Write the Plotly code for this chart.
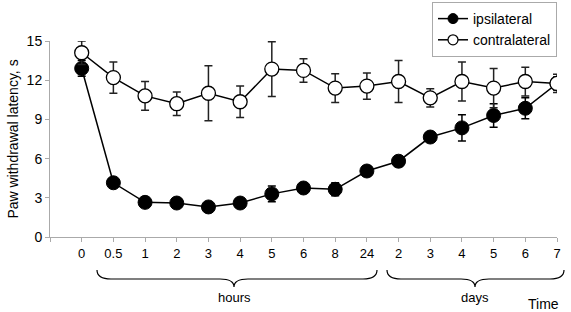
import plotly.graph_objects as go

tick_labels = ["0", "0.5", "1", "2", "3", "4", "5", "6", "8", "24",
               "2", "3", "4", "5", "6", "7"]
ipsi = [12.9, 4.15, 2.65, 2.6, 2.3, 2.6, 3.3, 3.75, 3.65, 5.05,
        5.8, 7.65, 8.35, 9.3, 9.85, 11.75]
ipsi_err = [0.6, 0.3, 0.35, 0.3, 0.3, 0.3, 0.6, 0.35, 0.5, 0.4,
            0.4, 0.3, 1.0, 0.9, 0.8, 0.5]
contra = [14.1, 12.2, 10.8, 10.2, 11.0, 10.35, 12.85, 12.75, 11.4, 11.55,
          11.9, 10.65, 11.9, 11.4, 11.9, 11.75]
contra_err = [0.9, 1.2, 1.1, 0.9, 2.1, 1.2, 2.1, 0.9, 1.1, 1.0,
              1.6, 0.7, 1.5, 1.5, 1.1, 0.7]

W, H = 571, 312
L, R, T, B = 50, 14, 41, 75
PW, PH = W - L - R, H - T - B

def px(x):
    return (x - L) / PW

def py(y):
    return (H - B - y) / PH

xs = list(range(len(tick_labels)))

fig = go.Figure()
fig.add_trace(go.Scatter(
    x=xs, y=ipsi, name="ipsilateral", mode="lines+markers", showlegend=False,
    line=dict(color="black", width=1.5),
    marker=dict(symbol="circle", size=14, color="black", line=dict(color="black", width=1)),
    error_y=dict(type="data", array=ipsi_err, color="black", thickness=1.5, width=4),
))
fig.add_trace(go.Scatter(
    x=xs, y=contra, name="contralateral", mode="lines+markers", showlegend=False,
    line=dict(color="black", width=1.5),
    marker=dict(symbol="circle", size=14, color="white", line=dict(color="black", width=1.3)),
    error_y=dict(type="data", array=contra_err, color="#222", thickness=1.5, width=4),
))
# legend entries (smaller symbols, as in the reference legend)
fig.add_trace(go.Scatter(
    x=[None], y=[None], name="ipsilateral", mode="lines+markers",
    line=dict(color="black", width=1.5),
    marker=dict(symbol="circle", size=10, color="black", line=dict(color="black", width=1)),
))
fig.add_trace(go.Scatter(
    x=[None], y=[None], name="contralateral", mode="lines+markers",
    line=dict(color="black", width=1.5),
    marker=dict(symbol="circle", size=10, color="white", line=dict(color="black", width=1.2)),
))

def brace(x0, x1, xm, ytop, ymid, ytip, d=12):
    pts = [(x0, ytop), (x0, ymid), (x0 + d, ymid), (xm - d, ymid), (xm, ymid), (xm, ytip),
           (xm, ymid), (xm + d, ymid), (x1 - d, ymid), (x1, ymid), (x1, ytop)]
    p = [(px(a), py(b)) for a, b in pts]
    s = "M {},{} Q {},{} {},{} L {},{} Q {},{} {},{} Q {},{} {},{} L {},{} Q {},{} {},{}".format(
        *[v for q in p for v in q])
    return s

shapes = [
    dict(type="path", xref="paper", yref="paper",
         path=brace(97, 377, 234, 270, 279, 287, 14),
         line=dict(color="black", width=1.2)),
    dict(type="path", xref="paper", yref="paper",
         path=brace(387, 564, 475, 270, 279, 287, 14),
         line=dict(color="black", width=1.2)),
]

annotations = [
    dict(text="hours", x=px(234), y=py(297), xref="paper", yref="paper",
         showarrow=False, font=dict(size=13), xanchor="center", yanchor="middle"),
    dict(text="days", x=px(475), y=py(297), xref="paper", yref="paper",
         showarrow=False, font=dict(size=13), xanchor="center", yanchor="middle"),
    dict(text="Time", x=px(543), y=py(304), xref="paper", yref="paper",
         showarrow=False, font=dict(size=14), xanchor="center", yanchor="middle"),
]

fig.update_layout(
    width=W, height=H,
    margin=dict(l=L, r=R, t=T, b=B, autoexpand=False),
    paper_bgcolor="white", plot_bgcolor="white",
    font=dict(family="Liberation Sans, Arial, sans-serif", color="black", size=12),
    showlegend=True,
    legend=dict(x=px(432), y=py(2), xanchor="left", yanchor="top",
                bordercolor="#aaa", borderwidth=1, bgcolor="white",
                font=dict(size=14), tracegroupgap=0, itemwidth=30),
    shapes=shapes,
    annotations=annotations,
)
fig.update_xaxes(
    range=[-1, 15], tickmode="array", tickvals=[-1] + xs, ticktext=[""] + tick_labels,
    showline=True, linecolor="#aaa", linewidth=1, ticks="outside", tickcolor="#aaa",
    ticklen=4, showgrid=False, zeroline=False, tickfont=dict(size=13),
)
fig.update_yaxes(
    range=[0, 15], tickvals=[0, 3, 6, 9, 12, 15],
    showline=True, linecolor="#aaa", linewidth=1, ticks="outside", tickcolor="#aaa",
    ticklen=4, showgrid=False, zeroline=False, tickfont=dict(size=14),
    title=dict(text="Paw withdrawal latency, s", font=dict(size=14), standoff=4),
)

fig.write_html("out.html", config={"displayModeBar": False},
               post_script="document.body.style.margin='0';")
